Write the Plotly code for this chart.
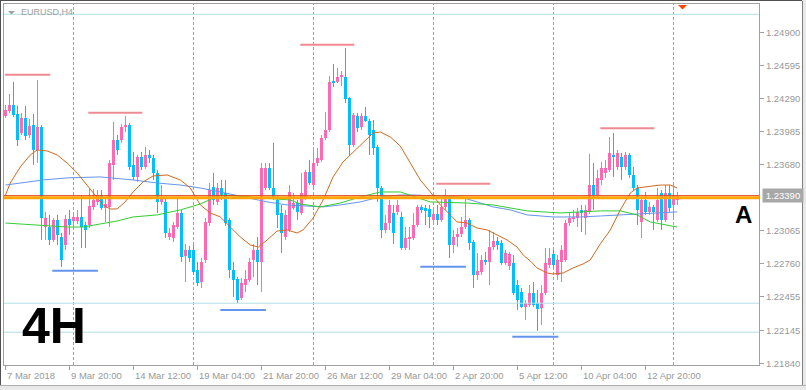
import plotly.graph_objects as go

# ---------------- data (EURUSD, H4) ----------------
open_ = [
    1.24127, 1.24173, 1.24228, 1.24145, 1.23969, 1.24108, 1.23951, 1.24043, 1.23812, 1.24025,
    1.23100, 1.23100, 1.22980, 1.23165, 1.23008, 1.22934, 1.23174, 1.23156, 1.23156, 1.23193,
    1.23119, 1.23119, 1.23286, 1.23332, 1.23396, 1.23276, 1.23286, 1.23674, 1.23904, 1.23904,
    1.24025, 1.24043, 1.23674, 1.23563, 1.23748, 1.23655, 1.23766, 1.23738, 1.23600, 1.23332,
    1.23332, 1.23008, 1.22998, 1.23100, 1.23230, 1.22833, 1.22888, 1.22888, 1.22703, 1.22592,
    1.22796, 1.23137, 1.23470, 1.23332, 1.23461, 1.23415, 1.23165, 1.22703, 1.22620, 1.22444,
    1.22564, 1.22611, 1.22796, 1.22888, 1.22778, 1.23461, 1.23646, 1.23461, 1.23350, 1.23230,
    1.23008, 1.23073, 1.23276, 1.23322, 1.23230, 1.23378, 1.23609, 1.23488, 1.23692, 1.23720,
    1.23923, 1.23997, 1.24441, 1.24441, 1.24487, 1.24487, 1.24292, 1.23858, 1.24127, 1.24025,
    1.24127, 1.24080, 1.23997, 1.23840, 1.23461, 1.23073, 1.23137, 1.23230, 1.23240, 1.23193,
    1.22906, 1.22989, 1.22998, 1.23119, 1.23286, 1.23276, 1.23267, 1.23165, 1.23221, 1.23165,
    1.23286, 1.23369, 1.22934, 1.23008, 1.23036, 1.23100, 1.23165, 1.22962, 1.22657, 1.22685,
    1.22796, 1.22778, 1.22915, 1.22971, 1.22952, 1.22768, 1.22740, 1.22768, 1.22564, 1.22500,
    1.22361, 1.22380, 1.22490, 1.22398, 1.22352, 1.22490, 1.22750, 1.22851, 1.22657, 1.22778,
    1.22796, 1.23137, 1.23174, 1.23183, 1.23258, 1.23183, 1.23240, 1.23488, 1.23396, 1.23535,
    1.23600, 1.23627, 1.23766, 1.23655, 1.23748, 1.23655, 1.23766, 1.23581, 1.23461, 1.23147,
    1.23350, 1.23240, 1.23286, 1.23165, 1.23415, 1.23165, 1.23415, 1.23304, 1.23350,
]
high = [
    1.24228, 1.24329, 1.24441, 1.24219, 1.24154, 1.24219, 1.24099, 1.24145, 1.24459, 1.24043,
    1.23240, 1.23212, 1.23183, 1.23212, 1.23045, 1.23212, 1.23258, 1.23230, 1.23258, 1.23396,
    1.23147, 1.23461, 1.23452, 1.23442, 1.23442, 1.23369, 1.23720, 1.24071, 1.23951, 1.24052,
    1.24127, 1.24062, 1.23794, 1.23766, 1.23794, 1.23840, 1.23812, 1.23766, 1.23627, 1.23488,
    1.23369, 1.23091, 1.23147, 1.23369, 1.23258, 1.22943, 1.22925, 1.22934, 1.22778, 1.22814,
    1.23183, 1.23507, 1.23600, 1.23507, 1.23535, 1.23535, 1.23183, 1.22778, 1.22639, 1.22629,
    1.22703, 1.22814, 1.22943, 1.23008, 1.23692, 1.23692, 1.23692, 1.23877, 1.23396, 1.23304,
    1.23258, 1.23488, 1.23415, 1.23350, 1.23600, 1.23627, 1.23720, 1.23812, 1.23831, 1.23951,
    1.24164, 1.24496, 1.24607, 1.24570, 1.24542, 1.24755, 1.24302, 1.24154, 1.24154, 1.24154,
    1.24210, 1.24099, 1.24089, 1.23858, 1.23479, 1.23212, 1.23350, 1.23304, 1.23350, 1.23240,
    1.23100, 1.23100, 1.23230, 1.23304, 1.23304, 1.23304, 1.23304, 1.23258, 1.23304, 1.23369,
    1.23452, 1.23387, 1.23073, 1.23091, 1.23193, 1.23369, 1.23183, 1.22980, 1.22860, 1.22841,
    1.22870, 1.23073, 1.23054, 1.23008, 1.22980, 1.22888, 1.22870, 1.22841, 1.22611, 1.22537,
    1.22426, 1.22564, 1.22592, 1.22518, 1.22564, 1.22906, 1.22906, 1.22888, 1.22841, 1.22934,
    1.23165, 1.23230, 1.23258, 1.23276, 1.23304, 1.23304, 1.23775, 1.23692, 1.23627, 1.23702,
    1.23720, 1.23932, 1.23969, 1.23812, 1.23784, 1.23794, 1.23784, 1.23655, 1.23488, 1.23378,
    1.23424, 1.23332, 1.23304, 1.23461, 1.23442, 1.23488, 1.23488, 1.23488, 1.23424,
]
low = [
    1.24108, 1.24154, 1.24117, 1.23849, 1.23951, 1.23904, 1.23923, 1.23674, 1.23692, 1.22980,
    1.22980, 1.22934, 1.22962, 1.22934, 1.22731, 1.22888, 1.23027, 1.23091, 1.23128, 1.22906,
    1.22906, 1.23091, 1.23258, 1.23304, 1.23258, 1.23147, 1.23100, 1.23535, 1.23766, 1.23877,
    1.23978, 1.23627, 1.23535, 1.23517, 1.23627, 1.23637, 1.23692, 1.23535, 1.23230, 1.23304,
    1.22998, 1.22980, 1.22962, 1.23082, 1.22778, 1.22592, 1.22778, 1.22657, 1.22555, 1.22537,
    1.22768, 1.23110, 1.23304, 1.23304, 1.23350, 1.23110, 1.22629, 1.22453, 1.22398, 1.22426,
    1.22500, 1.22592, 1.22639, 1.22564, 1.22500, 1.23442, 1.23442, 1.23350, 1.23091, 1.22860,
    1.22980, 1.23054, 1.23258, 1.23165, 1.23212, 1.23350, 1.23488, 1.23470, 1.23664, 1.23702,
    1.23904, 1.23978, 1.24394, 1.24431, 1.24403, 1.24246, 1.23766, 1.23840, 1.23978, 1.23997,
    1.24071, 1.23766, 1.23766, 1.23332, 1.22998, 1.23045, 1.23073, 1.22943, 1.23212, 1.22888,
    1.22888, 1.22888, 1.22980, 1.23100, 1.23230, 1.23119, 1.23091, 1.23147, 1.23119, 1.23147,
    1.23258, 1.22814, 1.22860, 1.22915, 1.23008, 1.23082, 1.22888, 1.22537, 1.22611, 1.22657,
    1.22750, 1.22564, 1.22888, 1.22888, 1.22750, 1.22750, 1.22703, 1.22472, 1.22334, 1.22352,
    1.22241, 1.22361, 1.22361, 1.22140, 1.22195, 1.22472, 1.22722, 1.22722, 1.22611, 1.22592,
    1.22778, 1.23110, 1.23147, 1.23100, 1.23054, 1.23027, 1.23221, 1.23258, 1.23369, 1.23488,
    1.23554, 1.23609, 1.23563, 1.23627, 1.23535, 1.23627, 1.23554, 1.23442, 1.23119, 1.22998,
    1.23212, 1.23212, 1.23073, 1.23147, 1.23073, 1.23147, 1.23240, 1.23193, 1.23304,
]
close = [
    1.24182, 1.24228, 1.24136, 1.23904, 1.24108, 1.23941, 1.24034, 1.23812, 1.24025, 1.23183,
    1.23183, 1.22980, 1.23165, 1.23027, 1.22796, 1.23174, 1.23119, 1.23193, 1.23193, 1.23100,
    1.23073, 1.23295, 1.23350, 1.23396, 1.23276, 1.23313, 1.23692, 1.23904, 1.23812, 1.24025,
    1.24043, 1.23655, 1.23563, 1.23748, 1.23655, 1.23766, 1.23738, 1.23600, 1.23332, 1.23369,
    1.23045, 1.23045, 1.23119, 1.23230, 1.22824, 1.22888, 1.22814, 1.22685, 1.22583, 1.22778,
    1.23147, 1.23442, 1.23350, 1.23461, 1.23396, 1.23137, 1.22703, 1.22611, 1.22426, 1.22583,
    1.22620, 1.22778, 1.22888, 1.22778, 1.23646, 1.23646, 1.23461, 1.23378, 1.23212, 1.23045,
    1.23212, 1.23424, 1.23322, 1.23240, 1.23415, 1.23609, 1.23507, 1.23692, 1.23738, 1.23923,
    1.23997, 1.24441, 1.24431, 1.24487, 1.24496, 1.24283, 1.23858, 1.24136, 1.24015, 1.24127,
    1.24080, 1.23951, 1.23831, 1.23461, 1.23073, 1.23137, 1.23304, 1.23045, 1.23304, 1.22906,
    1.22998, 1.23008, 1.23119, 1.23286, 1.23258, 1.23249, 1.23193, 1.23221, 1.23165, 1.23286,
    1.23378, 1.22934, 1.23008, 1.23036, 1.23100, 1.23165, 1.22952, 1.22657, 1.22694, 1.22796,
    1.22778, 1.22915, 1.22971, 1.22934, 1.22768, 1.22860, 1.22851, 1.22490, 1.22426, 1.22361,
    1.22398, 1.22490, 1.22380, 1.22343, 1.22490, 1.22768, 1.22814, 1.22750, 1.22796, 1.22888,
    1.23137, 1.23183, 1.23193, 1.23240, 1.23230, 1.23258, 1.23488, 1.23396, 1.23554, 1.23646,
    1.23646, 1.23784, 1.23748, 1.23784, 1.23655, 1.23766, 1.23581, 1.23461, 1.23258, 1.23350,
    1.23240, 1.23286, 1.23240, 1.23350, 1.23165, 1.23415, 1.23276, 1.23396, 1.23390,
]
bar_index = list(range(len(close)))

time_tick_index = [0, 16, 32, 48, 64, 80, 96, 112, 128, 144, 160]
time_tick_labels = ["7 Mar 2018", "9 Mar 20:00", "14 Mar 12:00", "19 Mar 04:00",
                    "21 Mar 20:00", "26 Mar 12:00", "29 Mar 04:00", "2 Apr 20:00",
                    "5 Apr 12:00", "10 Apr 04:00", "12 Apr 20:00"]
day_sep_index = [17, 47, 77, 107, 137, 167]
price_ticks = [1.24900, 1.24595, 1.24290, 1.23985, 1.23680, 1.23065,
               1.22760, 1.22455, 1.22145, 1.21840]
current_price = 1.23390

# moving averages
ma_fast_x = [0, 1.2, 3.7, 6.2, 7.9, 10.4, 12.9, 15.4, 17.9, 20.4, 22.4, 24.4, 26.2, 27.9, 29.9,
             31.9, 34.4, 36.9, 40.4, 43.7, 46.2, 48.7, 51.2, 53.7, 56.2, 58.7, 61.2, 63.2, 65.4,
             67.9, 70.4, 72.9, 74.4, 76.9, 79.4, 81.9, 84.4, 86.9, 89.4, 91.9, 93.7, 96.2, 98.7,
             101.2, 103.7, 106.2, 108.7, 111.2, 112.9, 115.4, 117.9, 120.4, 122.9, 125.4, 127.9,
             129.4, 131.2, 132.9, 135.4, 136.9, 139.4, 141.9, 144.4, 146.2, 148.7, 151.2, 153.7,
             156.2, 157.9, 160.4, 163.7, 166.2, 167.9]
ma_fast_y = [1.23396, 1.23507, 1.23655, 1.23766, 1.23812, 1.23803, 1.23766, 1.23692, 1.23600,
             1.23488, 1.23396, 1.23304, 1.23267, 1.23267, 1.23332, 1.23424, 1.23517, 1.23572,
             1.23581, 1.23535, 1.23461, 1.23304, 1.23230, 1.23193, 1.23100, 1.23008, 1.22934,
             1.22915, 1.22980, 1.23063, 1.23073, 1.23045, 1.23073, 1.23183, 1.23350, 1.23563,
             1.23702, 1.23794, 1.23886, 1.23969, 1.23978, 1.23932, 1.23849, 1.23692, 1.23535,
             1.23424, 1.23304, 1.23212, 1.23147, 1.23137, 1.23091, 1.23073, 1.23027, 1.22980,
             1.22915, 1.22842, 1.22786, 1.22722, 1.22675, 1.22666, 1.22675, 1.22722, 1.22759,
             1.22796, 1.22944, 1.23073, 1.23258, 1.23415, 1.23461, 1.23470, 1.23488, 1.23488,
             1.23461]
ma_mid_x = [0, 3.7, 7.0, 9.4, 15.4, 23.7, 31.9, 37.9, 43.7, 48.7, 53.7, 58.7, 61.9, 65.4, 70.4,
            75.4, 79.4, 83.7, 88.7, 93.7, 98.7, 101.9, 113.7, 117.9, 121.9, 126.2, 130.4, 136.9,
            143.7, 148.7, 153.7, 158.7, 167.9]
ma_mid_y = [1.23488, 1.23507, 1.23517, 1.23535, 1.23554, 1.23563, 1.23535, 1.23507, 1.23488,
            1.23461, 1.23424, 1.23387, 1.23359, 1.23332, 1.23304, 1.23295, 1.23286, 1.23304,
            1.23332, 1.23378, 1.23396, 1.23396, 1.23378, 1.23332, 1.23286, 1.23258, 1.23212,
            1.23193, 1.23193, 1.23202, 1.23212, 1.23221, 1.23240]
ma_slow_x = [0, 3.7, 7.0, 15.4, 19.4, 23.7, 27.9, 31.9, 37.9, 43.7, 48.7, 53.7, 58.7, 63.7, 71.2,
             73.7, 78.7, 83.7, 88.7, 93.7, 98.7, 106.2, 115.4, 121.9, 130.4, 138.7, 148.7, 153.7,
             157.9, 161.2, 167.9]
ma_slow_y = [1.23137, 1.23128, 1.23119, 1.23100, 1.23100, 1.23128, 1.23156, 1.23193, 1.23212,
             1.23258, 1.23313, 1.23396, 1.23387, 1.23369, 1.23350, 1.23313, 1.23286, 1.23322,
             1.23378, 1.23424, 1.23424, 1.23332, 1.23322, 1.23304, 1.23249, 1.23230, 1.23249,
             1.23249, 1.23212, 1.23147, 1.23100]

# horizontal objects
cyan_levels = [1.25066, 1.22396, 1.22128]
orange_level = 1.23371
resist_start = [-0.1, 20.7, 73.7, 107.7, 148.7]
resist_end = [11.2, 34.2, 87.2, 121.2, 162.2]
resist_price = [1.24508, 1.24157, 1.24785, 1.23501, 1.24012]
support_start = [11.7, 53.7, 103.7, 126.7]
support_end = [23.1, 65.1, 115.1, 138.2]
support_price = [1.22697, 1.22334, 1.22734, 1.22087]

# ---------------- figure ----------------
BULL = "#ff69b4"
BEAR = "#00bfff"
GRAY = "#a0a0a0"
FONT = "Liberation Sans, Arial, sans-serif"

fig = go.Figure()


def wick_xy(idx):
    xs, ys = [], []
    for i in idx:
        xs += [i, i, None]
        ys += [low[i], high[i], None]
    return xs, ys


up = [i for i in bar_index if close[i] >= open_[i]]
dn = [i for i in bar_index if close[i] < open_[i]]

for idx, col in ((up, BULL), (dn, BEAR)):
    wx, wy = wick_xy(idx)
    fig.add_trace(go.Scatter(x=wx, y=wy, mode="lines", line=dict(color=col, width=1),
                             hoverinfo="skip"))
    fig.add_trace(go.Bar(
        x=idx,
        base=[min(open_[i], close[i]) for i in idx],
        y=[max(abs(close[i] - open_[i]), 0.00009) for i in idx],
        width=0.75, marker=dict(color=col, line=dict(width=0)), hoverinfo="skip"))

# moving averages
fig.add_trace(go.Scatter(x=ma_mid_x, y=ma_mid_y, mode="lines",
                         line=dict(color="#6495ed", width=1), hoverinfo="skip"))
fig.add_trace(go.Scatter(x=ma_slow_x, y=ma_slow_y, mode="lines",
                         line=dict(color="#32cd32", width=1), hoverinfo="skip"))
fig.add_trace(go.Scatter(x=ma_fast_x, y=ma_fast_y, mode="lines",
                         line=dict(color="#d2691e", width=1), hoverinfo="skip"))

shapes = []
for d in day_sep_index:
    shapes.append(dict(type="line", xref="x", yref="paper", x0=d, x1=d, y0=0, y1=1,
                       line=dict(color=GRAY, width=1, dash="3px,2px"), layer="below"))
for lv in cyan_levels:
    shapes.append(dict(type="line", xref="paper", yref="y", x0=0, x1=1, y0=lv, y1=lv,
                       line=dict(color="#b0e0e6", width=1)))
shapes.append(dict(type="line", xref="paper", yref="y", x0=0, x1=1, y0=current_price,
                   y1=current_price, line=dict(color="#e0401f", width=1)))
shapes.append(dict(type="line", xref="paper", yref="y", x0=0, x1=1, y0=orange_level,
                   y1=orange_level, line=dict(color="#ffa500", width=3)))
for a, b, p in zip(resist_start, resist_end, resist_price):
    shapes.append(dict(type="line", xref="x", yref="y", x0=a, x1=b, y0=p, y1=p,
                       line=dict(color="#f08a92", width=2)))
for a, b, p in zip(support_start, support_end, support_price):
    shapes.append(dict(type="line", xref="x", yref="y", x0=a, x1=b, y0=p, y1=p,
                       line=dict(color="#6495ed", width=2)))


def px(xp):
    return (xp - 4) / 755.0


def py(yp):
    return (365 - yp) / 361.0


# window frame
shapes.append(dict(type="line", xref="paper", yref="paper", x0=px(0), x1=px(806),
                   y0=py(0.5), y1=py(0.5), line=dict(color="#505050", width=1)))
shapes.append(dict(type="line", xref="paper", yref="paper", x0=px(0.5), x1=px(0.5),
                   y0=py(0), y1=py(386), line=dict(color="#505050", width=1)))
shapes.append(dict(type="rect", xref="paper", yref="paper", x0=px(802), x1=px(806),
                   y0=py(0), y1=py(390), line=dict(width=0), fillcolor="#e8e8e8"))
shapes.append(dict(type="line", xref="paper", yref="paper", x0=px(802.5), x1=px(802.5),
                   y0=py(1), y1=py(386), line=dict(color="#808080", width=1)))
shapes.append(dict(type="rect", xref="paper", yref="paper", x0=px(0), x1=px(806),
                   y0=py(386), y1=py(390), line=dict(width=0), fillcolor="#e8e8e8"))
shapes.append(dict(type="line", xref="paper", yref="paper", x0=px(0), x1=px(806),
                   y0=py(385.5), y1=py(385.5), line=dict(color="#b0b0b0", width=1)))
shapes.append(dict(type="path", xref="paper", yref="paper",
                   path=f"M {px(8)} {py(11)} L {px(15)} {py(11)} L {px(11.5)} {py(14.5)} Z",
                   fillcolor=GRAY, line=dict(width=0)))
shapes.append(dict(type="path", xref="paper", yref="paper",
                   path=f"M {px(678)} {py(5)} L {px(687)} {py(5)} L {px(682.5)} {py(9.5)} Z",
                   fillcolor="#ff4500", line=dict(width=0)))

annotations = []
for t, lab in zip(time_tick_index, time_tick_labels):
    annotations.append(dict(x=t, y=0, xref="x", yref="paper", text=lab, showarrow=False,
                            xanchor="left", yanchor="top", yshift=-3, xshift=-1,
                            font=dict(family=FONT, size=9.5, color="#999999")))
annotations.append(dict(x=1, y=current_price, xref="paper", yref="y", text="1.23390",
                        showarrow=False, xanchor="left", yanchor="middle", xshift=3,
                        bgcolor="#a8a8a8", width=38, height=11, align="center",
                        font=dict(family=FONT, size=9.5, color="white")))
annotations.append(dict(x=px(19), y=py(12), xref="paper", yref="paper", text="EURUSD,H4",
                        showarrow=False, xanchor="left", yanchor="middle",
                        font=dict(family=FONT, size=9, color="#a0a0a0")))
annotations.append(dict(x=px(743.5), y=py(214.5), xref="paper", yref="paper", text="<b>A</b>",
                        showarrow=False, xanchor="center", yanchor="middle",
                        font=dict(family=FONT, size=24, color="black")))
annotations.append(dict(x=px(20), y=py(325.5), xref="paper", yref="paper", text="<b>4H</b>",
                        showarrow=False, xanchor="left", yanchor="middle",
                        font=dict(family=FONT, size=50, color="black")))

fig.update_layout(
    width=806, height=390,
    margin=dict(l=4, r=47, t=4, b=25, autoexpand=False),
    paper_bgcolor="white", plot_bgcolor="white", showlegend=False,
    bargap=0,
    xaxis=dict(range=[-0.375, 188.375], showgrid=False, zeroline=False, showline=True,
               mirror=True, linecolor=GRAY, linewidth=1, ticks="outside", ticklen=4,
               tickcolor=GRAY, tickvals=time_tick_index, showticklabels=False,
               fixedrange=True),
    yaxis=dict(range=[1.21825, 1.25161], side="right", showgrid=False, zeroline=False,
               showline=True, mirror=True, linecolor=GRAY, linewidth=1, ticks="outside",
               ticklen=4, tickcolor=GRAY, tickvals=price_ticks, tickformat=".5f",
               tickfont=dict(family=FONT, size=9.5, color="#999999"), fixedrange=True),
    shapes=shapes,
    annotations=annotations,
)

fig.write_html("out.html", config={"displayModeBar": False},
               post_script="document.body.style.margin='0';document.body.style.overflow='hidden';")
